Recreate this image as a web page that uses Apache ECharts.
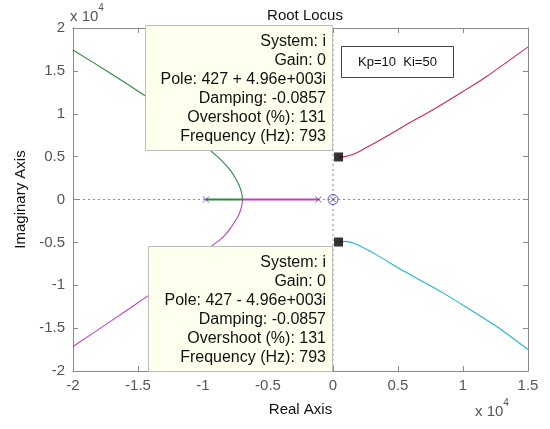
<!DOCTYPE html>
<html>
<head>
<meta charset="utf-8">
<script src="https://cdn.jsdelivr.net/npm/echarts@6/dist/echarts.min.js"></script>
<style>html,body{margin:0;padding:0;background:#fff;}#c{width:550px;height:429px;}</style>
</head>
<body>
<div id="c"></div>
<script>
// ---- data (units of 1e4) ----
const X_RANGE = [-2, 1.5];
const Y_RANGE = [-2, 2];
const TICK_STEP = 0.5;

// branch parts lying on the real axis
const greenRealSegment = [[-0.977,0],[-0.695,0]];
const magentaRealSegment = [[-0.113,0],[-0.695,0]];
// complex branches
const greenBranch = [[-0.695,0],[-0.703,0.08],[-0.723,0.17],[-0.755,0.26],[-0.792,0.345],[-0.86,0.46],[-0.933,0.558],[-1.05,0.72],[-1.2,0.92],[-1.408,1.169],[-1.7,1.46],[-2,1.744]];
const magentaBranch = [[-0.695,0],[-0.703,-0.08],[-0.722,-0.17],[-0.755,-0.26],[-0.798,-0.354],[-0.86,-0.46],[-0.933,-0.541],[-1.05,-0.7],[-1.2,-0.88],[-1.413,-1.112],[-1.7,-1.41],[-2,-1.714]];
const redBranch = [[0.043,0.496],[0.092,0.5],[0.16,0.53],[0.25,0.6],[0.336,0.67],[0.55,0.86],[0.772,1.05],[1.0,1.26],[1.182,1.435],[1.5,1.78]];
const cyanBranch = [[0.043,-0.496],[0.092,-0.488],[0.16,-0.51],[0.25,-0.575],[0.336,-0.646],[0.55,-0.84],[0.849,-1.092],[1.05,-1.28],[1.259,-1.481],[1.5,-1.75]];
const openLoopPoles = [[-0.977,0],[-0.113,0],[0,0]];
const openLoopZeros = [[0,0]];
const selectedPoles = [[0.0427,0.496],[0.0427,-0.496]];
const realAxisLine = [[-2,0],[1.5,0]];
const imagAxisLine = [[0,-2],[0,2]];

const tipUpper = ['System: i','Gain: 0','Pole: 427 + 4.96e+003i','Damping: -0.0857','Overshoot (%): 131','Frequency (Hz): 793'];
const tipLower = ['System: i','Gain: 0','Pole: 427 - 4.96e+003i','Damping: -0.0857','Overshoot (%): 131','Frequency (Hz): 793'];
const legendText = 'Kp=10  Ki=50';

const FONT = '"Liberation Sans", Arial, sans-serif';
const chart = echarts.init(document.getElementById('c'), null, {renderer:'canvas'});

const axisCommon = {
  type:'value', interval:TICK_STEP,
  axisLine:{show:true, onZero:false, lineStyle:{color:'#8a8a8a', width:1}},
  axisTick:{show:true, inside:true, length:5, lineStyle:{color:'#8a8a8a'}},
  splitLine:{show:false}
};
const labelStyle = {color:'#555', fontSize:15, fontFamily:FONT};
const expRich = {a:{fontSize:15, fontFamily:FONT, fill:'#555', verticalAlign:'bottom', padding:[6,0,0,0]}, b:{fontSize:10, fontFamily:FONT, fill:'#555', verticalAlign:'top'}};

const GREEN = '#2a8a3a', MAGENTA = '#c040c0', RED = '#d02848', CYAN = '#20b8c8';

const option = {
  animation:false,
  backgroundColor:'#fff',
  title:{text:'Root Locus', left:300, top:3, textAlign:'center',
    textStyle:{fontSize:15, fontWeight:'normal', color:'#111', fontFamily:FONT}},
  grid:{left:73, top:28, width:455, height:343, containLabel:false},
  xAxis:[
    Object.assign({}, axisCommon, {min:X_RANGE[0], max:X_RANGE[1], position:'bottom',
      axisLabel:Object.assign({margin:7}, labelStyle),
      name:'Real Axis', nameLocation:'middle', nameGap:31,
      nameTextStyle:{fontSize:15, color:'#111', fontFamily:FONT}}),
    Object.assign({}, axisCommon, {min:X_RANGE[0], max:X_RANGE[1], position:'top', axisLabel:{show:false}})
  ],
  yAxis:[
    Object.assign({}, axisCommon, {min:Y_RANGE[0], max:Y_RANGE[1], position:'left',
      axisLabel:Object.assign({margin:8}, labelStyle),
      name:'Imaginary Axis', nameLocation:'middle', nameGap:43,
      nameTextStyle:{fontSize:15, color:'#111', fontFamily:FONT}}),
    Object.assign({}, axisCommon, {min:Y_RANGE[0], max:Y_RANGE[1], position:'right', axisLabel:{show:false}})
  ],
  series:[
    {type:'line', data:realAxisLine, symbol:'none', silent:true, z:1,
      lineStyle:{color:'#8c8c8c', width:1, type:[2,3]}},
    {type:'line', data:imagAxisLine, symbol:'none', silent:true, z:1,
      lineStyle:{color:'#8c8c8c', width:1, type:[2,3]}},
    {type:'line', data:greenRealSegment, symbol:'none', z:4, lineStyle:{color:GREEN, width:2}},
    {type:'line', data:magentaRealSegment, symbol:'none', z:4, lineStyle:{color:MAGENTA, width:2}},
    {type:'line', data:greenBranch, symbol:'none', z:3, smooth:0.2, lineStyle:{color:GREEN, width:1.1}},
    {type:'line', data:magentaBranch, symbol:'none', z:3, smooth:0.2, lineStyle:{color:MAGENTA, width:1.1}},
    {type:'line', data:redBranch, symbol:'none', z:3, smooth:0.25, lineStyle:{color:RED, width:1.1}},
    {type:'line', data:cyanBranch, symbol:'none', z:3, smooth:0.25, lineStyle:{color:CYAN, width:1.1}},
    {type:'scatter', data:openLoopPoles, symbol:'path://M0,0L10,10M10,0L0,10', symbolSize:6,
      itemStyle:{color:'none', borderColor:'#3030b8', borderWidth:1}, z:5},
    {type:'scatter', data:openLoopZeros, symbol:'circle', symbolSize:10,
      itemStyle:{color:'none', borderColor:'#3030b8', borderWidth:1}, z:5},
    {type:'scatter', data:selectedPoles, symbol:'rect', symbolSize:9,
      itemStyle:{color:'#000'}, z:6}
  ],
  graphic:[
    {type:'text', left:70, top:3, z:50, style:{text:'{a|x 10}{b|4}', rich:expRich}},
    {type:'text', left:475, top:398, z:50, style:{text:'{a|x 10}{b|4}', rich:expRich}},
    {type:'rect', z:100, shape:{x:145.5, y:25.5, width:187, height:125},
      style:{fill:'#ffffee', stroke:'#bdbdbd', lineWidth:1}},
    {type:'text', z:101, x:326, y:32,
      style:{text:tipUpper.join('\n'), font:'16px ' + FONT, fill:'#111', align:'right', verticalAlign:'top', lineHeight:19}},
    {type:'rect', z:100, shape:{x:148.5, y:246.5, width:184, height:125},
      style:{fill:'#ffffee', stroke:'#bdbdbd', lineWidth:1}},
    {type:'text', z:101, x:326, y:253,
      style:{text:tipLower.join('\n'), font:'16px ' + FONT, fill:'#111', align:'right', verticalAlign:'top', lineHeight:19}},
    {type:'rect', z:100, shape:{x:341.5, y:46.5, width:112, height:31},
      style:{fill:'#fff', stroke:'#444', lineWidth:1}},
    {type:'text', z:101, x:397.5, y:62.5,
      style:{text:legendText, font:'13px ' + FONT, fill:'#111', align:'center', verticalAlign:'middle'}}
  ]
};
chart.setOption(option);
</script>
</body>
</html>
